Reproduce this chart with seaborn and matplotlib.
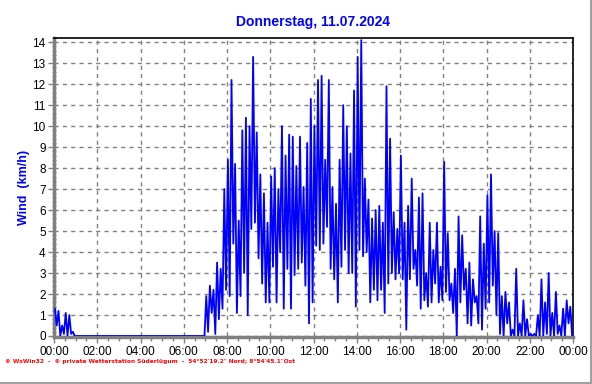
import pandas as pd
import matplotlib
matplotlib.use("Agg")
import matplotlib.pyplot as plt
from matplotlib.ticker import MultipleLocator
from matplotlib.lines import Line2D
import seaborn as sns

# Texts
title = "Donnerstag, 11.07.2024"
y_label = "Wind  (km/h)"
footer = "© WsWin32  -  © private Wetterstation Süderlügum  -  54°52'19.2\" Nord; 8°54'45.1\"Ost"
hour_ticks = [0, 2, 4, 6, 8, 10, 12, 14, 16, 18, 20, 22, 24]
hour_labels = ["00:00", "02:00", "04:00", "06:00", "08:00", "10:00", "12:00",
               "14:00", "16:00", "18:00", "20:00", "22:00", "00:00"]

# Wind speed (km/h), read per 10-minute slot: highest and lowest value in the slot
wind_hi = [
    1.3, 1.2, 0.5, 1.1, 1.0, 0.2, 0, 0, 0, 0, 0, 0,                        # 00-02
    0, 0, 0, 0, 0, 0, 0, 0, 0, 0, 0, 0,                                    # 02-04
    0, 0, 0, 0, 0, 0, 0, 0, 0, 0, 0, 0,                                    # 04-06
    0, 0, 0, 0, 0, 0, 1.9, 2.4, 2.2, 3.5, 3.2, 7.0,                        # 06-08
    8.4, 12.2, 8.2, 5.5, 9.8, 10.4, 10.0, 13.3, 9.7, 7.7, 6.8, 5.4,        # 08-10
    7.6, 8.0, 7.0, 10.0, 8.6, 9.6, 9.5, 8.1, 9.5, 7.1, 9.2, 11.3,          # 10-12
    10.0, 12.2, 12.4, 8.4, 12.2, 7.1, 6.3, 8.4, 11.0, 10.0, 8.7, 11.7,     # 12-14
    13.3, 14.1, 7.5, 6.5, 5.6, 6.0, 6.2, 5.4, 11.9, 9.4, 5.9, 5.1,         # 14-16
    8.6, 5.4, 6.2, 7.5, 4.1, 6.6, 6.8, 3.0, 5.4, 4.1, 5.4, 3.3,            # 16-18
    8.3, 4.9, 2.5, 3.2, 5.7, 4.8, 3.2, 3.5, 2.7, 1.9, 5.7, 4.4,            # 18-20
    6.7, 7.7, 5.0, 4.9, 1.9, 2.1, 1.6, 0.3, 3.2, 0.6, 1.7, 0.8,            # 20-22
    0.1, 0.1, 1.0, 2.7, 1.6, 3.0, 1.1, 2.1, 0.5, 1.3, 1.7, 1.4,            # 22-24
]
wind_lo = [
    0.5, 0.0, 0.1, 0.0, 0.1, 0.0, 0, 0, 0, 0, 0, 0,
    0, 0, 0, 0, 0, 0, 0, 0, 0, 0, 0, 0,
    0, 0, 0, 0, 0, 0, 0, 0, 0, 0, 0, 0,
    0, 0, 0, 0, 0, 0, 0.2, 1.1, 0.1, 0.8, 1.3, 2.2,
    1.9, 4.4, 1.1, 1.9, 3.0, 1.0, 5.1, 5.4, 3.7, 2.5, 1.6, 1.6,
    3.3, 1.6, 4.0, 1.3, 3.2, 1.3, 2.9, 3.2, 3.5, 2.4, 0.6, 1.6,
    4.3, 4.1, 4.4, 5.2, 3.2, 2.7, 1.6, 3.3, 4.1, 3.0, 3.0, 1.4,
    4.1, 3.8, 4.0, 1.6, 2.2, 1.7, 2.2, 1.1, 2.5, 3.0, 2.7, 3.0,
    2.7, 0.3, 2.7, 3.2, 2.4, 1.3, 1.7, 1.4, 1.6, 2.5, 1.6, 1.7,
    2.1, 1.7, 1.1, 0.0, 1.6, 2.2, 0.6, 0.5, 1.6, 0.6, 0.3, 1.3,
    1.6, 2.4, 1.0, 0.1, 0.0, 0.6, 0.0, 0.0, 0.0, 0.0, 0.0, 0.0,
    0.0, 0.0, 0.0, 0.0, 0.1, 0.0, 0.0, 0.1, 0.0, 0.0, 0.6, 0.0,
]

# high and low of each slot one after the other -> jagged trace
slot = 1 / 6
hours, speeds = [], []
for i, (hi, lo) in enumerate(zip(wind_hi, wind_lo)):
    hours += [i * slot + slot * 0.25, i * slot + slot * 0.75]
    speeds += [hi, lo]
df = pd.DataFrame({"hour": hours, "wind": speeds})

sns.set_style("white")
plt.rcParams["font.family"] = ["Liberation Sans", "DejaVu Sans"]

W, H = 592, 384
fig = plt.figure(figsize=(W / 100, H / 100), dpi=100)
ax = fig.add_axes([54 / W, 1 - 336 / H, (573 - 54) / W, (336 - 38) / H])

sns.lineplot(data=df, x="hour", y="wind", ax=ax, color="#0000ff",
             lw=1.3, estimator=None, zorder=3)

ax.set_xlim(0, 24)
ax.set_ylim(0, 14.2)
ax.set_xticks(hour_ticks)
ax.set_xticklabels(hour_labels)
ax.set_yticks(range(0, 15))
ax.xaxis.set_minor_locator(MultipleLocator(0.5))
ax.yaxis.set_minor_locator(MultipleLocator(0.2))

ax.set_axisbelow(True)
ax.grid(True, which="major", color="#808080", ls=(0, (3, 3)), lw=1)

for side in ["left", "bottom"]:
    ax.spines[side].set_color("#808080")
    ax.spines[side].set_linewidth(2.5)
for side in ["top", "right"]:
    ax.spines[side].set_color("black")
    ax.spines[side].set_linewidth(1.2)
ax.spines["bottom"].set_position(("outward", 1))

ax.tick_params(which="major", bottom=True, left=True, direction="out",
               length=4, width=1, color="#808080", labelsize=8.5, pad=2,
               labelcolor="black")
ax.tick_params(axis="x", which="minor", bottom=True, direction="out",
               length=3, width=1, color="#808080")
ax.tick_params(axis="y", which="minor", left=True, direction="inout",
               length=3, width=1, color="#808080")

ax.set_xlabel("")
ax.set_ylabel(y_label, color="#0000ff", fontweight="bold", fontsize=9)
ax.yaxis.set_label_coords((30 - 54) / (573 - 54), 0.5)

fig.text(313 / W, 1 - 22 / H, title, ha="center", va="center",
         color="#0000ff", fontweight="bold", fontsize=10)
fig.text(5 / W, 1 - 362 / H, footer, ha="left", va="center",
         color="#ff0000", fontweight="bold", fontsize=4.2,
         family=["DejaVu Sans"])

# frame of the picture (right and bottom edge)
fig.add_artist(Line2D([590.5 / W] * 2, [0, 1], color="#a0a0a0", lw=1.5))
fig.add_artist(Line2D([0, 1], [1 - 382.5 / H] * 2, color="#a0a0a0", lw=1.5))

fig.savefig("out.png", dpi=100)
